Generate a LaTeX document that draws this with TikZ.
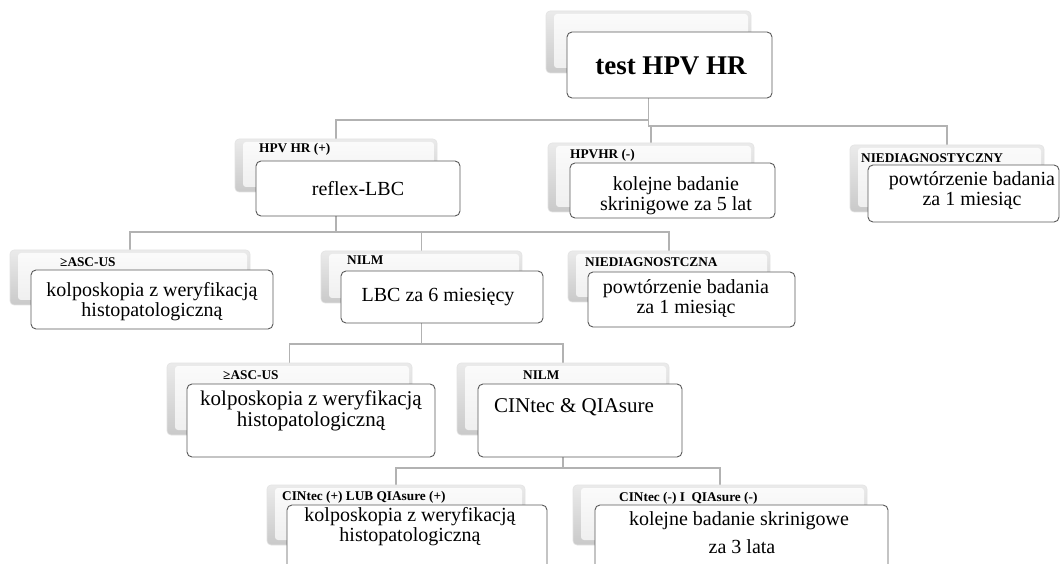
\documentclass[tikz,border=0pt]{standalone}
\usepackage{fontspec}
\setmainfont{Liberation Serif}
\usetikzlibrary{fit}
\pgfdeclarelayer{wires}
\pgfsetlayers{wires,main}

\tikzset{
  conn/.style={draw=gray!60, line width=1.1pt},
  backbox/.style={inner sep=0pt, outer sep=0pt, rounded corners=4pt,
    draw=gray!22, line width=0.6pt, top color=gray!16, bottom color=gray!42,
    path picture={
      \shade[top color=gray!3, bottom color=gray!13, rounded corners=3pt]
        ([xshift=8pt,yshift=-3pt]path picture bounding box.north west)
        rectangle ([xshift=-3pt,yshift=5pt]path picture bounding box.south east);
    }},
  frontbox/.style={inner sep=0pt, outer sep=0pt, rounded corners=5pt,
    fill=white, draw=gray!70!black, line width=0.9pt},
  tag/.style={anchor=west, inner sep=0pt, font=\fontsize{13.3}{14}\selectfont\bfseries},
  body/.style={inner sep=0pt, align=center, font=\fontsize{20}{20}\selectfont},
  bigbody/.style={inner sep=0pt, align=center, font=\fontsize{21}{20.5}\selectfont},
  title/.style={inner sep=0pt, font=\fontsize{27}{30}\selectfont\bfseries},
}

\begin{document}
\begin{tikzpicture}[x=1pt, y=-1pt]
\useasboundingbox (0,0) rectangle (1061,564);
\clip (0,0) rectangle (1061,564);

% ---- root
\node[backbox, fit={(546,11) (751,73)}] (tB) {};
\node[frontbox, fit={(567,32) (772,98)}] (tF) {};
\node[title] (tT) at (671,66) {test HPV HR};

% ---- first level
\node[backbox, fit={(235,139) (437,192)}] (p1B) {};
\node[frontbox, fit={(256,161) (460,216)}] (p1F) {};
\node[tag] (p1L) at (259,149) {HPV HR (+)};
\node[body] (p1T) at (358,189) {reflex-LBC};

\node[backbox, fit={(548,143) (754,212)}] (p2B) {};
\node[frontbox, fit={(570,163) (775,218)}] (p2F) {};
\node[tag] (p2L) at (570,155) {HPVHR (-)};
\node[body] (p2T) at (676,196) {kolejne badanie\\skrinigowe za 5 lat};

\node[backbox, fit={(850,145) (1044,212)}] (p3B) {};
\node[frontbox, fit={(868,165) (1059,222)}] (p3F) {};
\node[tag] (p3L) at (861,158) {NIEDIAGNOSTYCZNY};
\node[body] (p3T) at (972,191) {powtórzenie badania\\za 1 miesiąc};

% ---- second level
\node[backbox, fit={(10,250) (250,305)}] (q1B) {};
\node[frontbox, fit={(31,270) (273,329)}] (q1F) {};
\node[tag] (q1L) at (60,262) {≥ASC-US};
\node[body] (q1T) at (152,302) {kolposkopia z weryfikacją\\histopatologiczną};

\node[backbox, fit={(321,251) (522,303)}] (q2B) {};
\node[frontbox, fit={(341,271) (543,323)}] (q2F) {};
\node[tag] (q2L) at (347,260) {NILM};
\node[body] (q2T) at (438,297) {LBC za 6 miesięcy};

\node[backbox, fit={(568,251) (770,302)}] (q3B) {};
\node[frontbox, fit={(588,272) (795,327)}] (q3F) {};
\node[tag] (q3L) at (585,262) {NIEDIAGNOSTCZNA};
\node[body] (q3T) at (686,299) {powtórzenie badania\\za 1 miesiąc};

% ---- third level
\node[backbox, fit={(167,363) (412,435)}] (r1B) {};
\node[frontbox, fit={(187,384) (435,457)}] (r1F) {};
\node[tag] (r1L) at (223,375) {≥ASC-US};
\node[bigbody] (r1T) at (311,411) {kolposkopia z weryfikacją\\histopatologiczną};

\node[backbox, fit={(457,363) (669,435)}] (r2B) {};
\node[frontbox, fit={(478,384) (682,457)}] (r2F) {};
\node[tag] (r2L) at (523,375) {NILM};
\node[bigbody] (r2T) at (574,407) {CINtec \& QIAsure};

% ---- fourth level
\node[backbox, fit={(267,485) (525,545)}] (s1B) {};
\node[frontbox, fit={(287,505) (547,600)}] (s1F) {};
\node[tag] (s1L) at (282,497) {CINtec (+) LUB QIAsure (+)};
\node[body] (s1T) at (410,527) {kolposkopia z weryfikacją\\histopatologiczną};

\node[backbox, fit={(573,485) (867,545)}] (s2B) {};
\node[frontbox, fit={(595,505) (888,600)}] (s2F) {};
\node[tag] (s2L) at (619,498) {CINtec (-) I\ \ QIAsure (-)};
\node[body] (s2T) at (739,521) {kolejne badanie skrinigowe};
\node[body] (s2U) at (742,547) {za 3 lata};

% ---- connectors (behind the boxes)
\coordinate (busA) at (0,120);
\coordinate (busB) at (0,126);
\coordinate (busC) at (0,232);
\coordinate (busD) at (0,344);
\coordinate (busE) at (0,468);

\begin{pgfonlayer}{wires}
\draw[conn] (tB.south) -- (tB.south |- busA) -| (p1B.north);
\draw[conn] (tB.south) -- (tB.south |- busB) -| (p2B.north);
\draw[conn] (tB.south) -- (tB.south |- busB) -| (p3B.north);

\draw[conn] (p1B.south) -- (p1B.south |- busC) -| (q1B.north);
\draw[conn] (p1B.south) -- (p1B.south |- busC) -| (q2B.north);
\draw[conn] (p1B.south) -- (p1B.south |- busC) -| (q3B.north);

\draw[conn] (q2B.south) -- (q2B.south |- busD) -| (r1B.north);
\draw[conn] (q2B.south) -- (q2B.south |- busD) -| (r2B.north);

\draw[conn] (r2B.south) -- (r2B.south |- busE) -| (s1B.north);
\draw[conn] (r2B.south) -- (r2B.south |- busE) -| (s2B.north);
\end{pgfonlayer}
\end{tikzpicture}
\end{document}
